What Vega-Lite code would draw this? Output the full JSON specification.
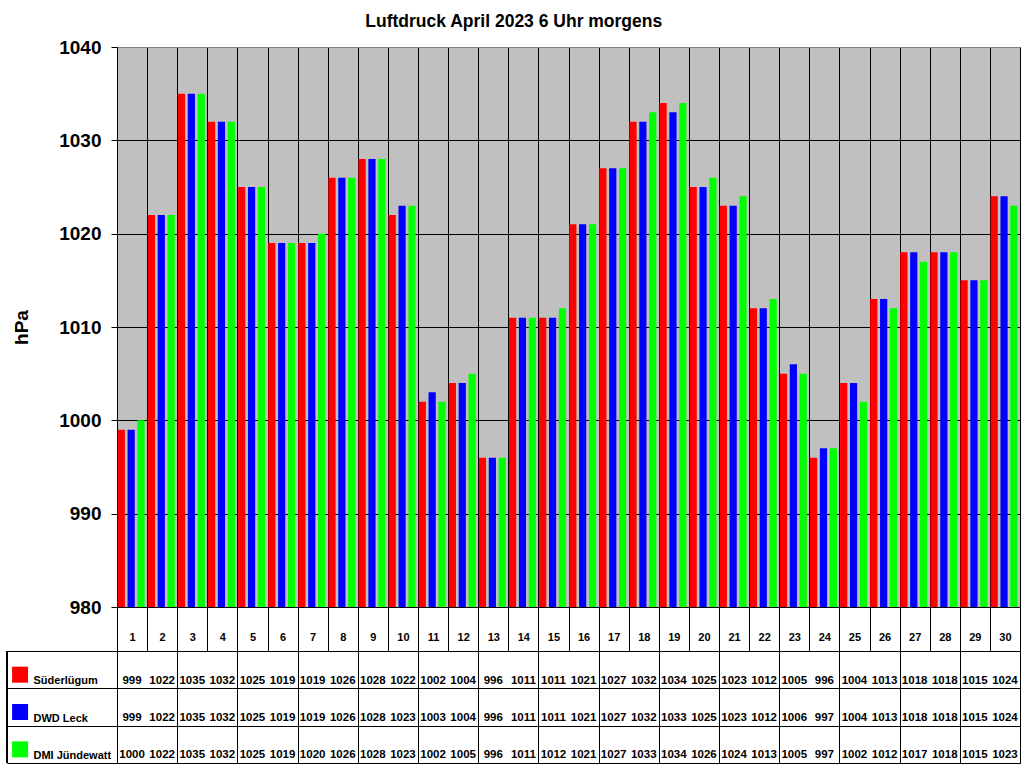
{
  "$schema": "https://vega.github.io/schema/vega-lite/v6.json",
  "background": "white",
  "padding": {"left": 6, "top": 13, "right": 4, "bottom": 4},
  "spacing": 44,
  "bounds": "flush",
  "config": {"font": "Liberation Sans"},
  "title": {"text": "Luftdruck April 2023 6 Uhr morgens", "font": "Liberation Sans", "fontWeight": "bold", "fontSize": 17.5, "color": "black", "anchor": "middle", "offset": 7},
  "data": {"values": [
    {"day": 1, "Süderlügum": 999, "DWD Leck": 999, "DMI Jündewatt": 1000},
    {"day": 2, "Süderlügum": 1022, "DWD Leck": 1022, "DMI Jündewatt": 1022},
    {"day": 3, "Süderlügum": 1035, "DWD Leck": 1035, "DMI Jündewatt": 1035},
    {"day": 4, "Süderlügum": 1032, "DWD Leck": 1032, "DMI Jündewatt": 1032},
    {"day": 5, "Süderlügum": 1025, "DWD Leck": 1025, "DMI Jündewatt": 1025},
    {"day": 6, "Süderlügum": 1019, "DWD Leck": 1019, "DMI Jündewatt": 1019},
    {"day": 7, "Süderlügum": 1019, "DWD Leck": 1019, "DMI Jündewatt": 1020},
    {"day": 8, "Süderlügum": 1026, "DWD Leck": 1026, "DMI Jündewatt": 1026},
    {"day": 9, "Süderlügum": 1028, "DWD Leck": 1028, "DMI Jündewatt": 1028},
    {"day": 10, "Süderlügum": 1022, "DWD Leck": 1023, "DMI Jündewatt": 1023},
    {"day": 11, "Süderlügum": 1002, "DWD Leck": 1003, "DMI Jündewatt": 1002},
    {"day": 12, "Süderlügum": 1004, "DWD Leck": 1004, "DMI Jündewatt": 1005},
    {"day": 13, "Süderlügum": 996, "DWD Leck": 996, "DMI Jündewatt": 996},
    {"day": 14, "Süderlügum": 1011, "DWD Leck": 1011, "DMI Jündewatt": 1011},
    {"day": 15, "Süderlügum": 1011, "DWD Leck": 1011, "DMI Jündewatt": 1012},
    {"day": 16, "Süderlügum": 1021, "DWD Leck": 1021, "DMI Jündewatt": 1021},
    {"day": 17, "Süderlügum": 1027, "DWD Leck": 1027, "DMI Jündewatt": 1027},
    {"day": 18, "Süderlügum": 1032, "DWD Leck": 1032, "DMI Jündewatt": 1033},
    {"day": 19, "Süderlügum": 1034, "DWD Leck": 1033, "DMI Jündewatt": 1034},
    {"day": 20, "Süderlügum": 1025, "DWD Leck": 1025, "DMI Jündewatt": 1026},
    {"day": 21, "Süderlügum": 1023, "DWD Leck": 1023, "DMI Jündewatt": 1024},
    {"day": 22, "Süderlügum": 1012, "DWD Leck": 1012, "DMI Jündewatt": 1013},
    {"day": 23, "Süderlügum": 1005, "DWD Leck": 1006, "DMI Jündewatt": 1005},
    {"day": 24, "Süderlügum": 996, "DWD Leck": 997, "DMI Jündewatt": 997},
    {"day": 25, "Süderlügum": 1004, "DWD Leck": 1004, "DMI Jündewatt": 1002},
    {"day": 26, "Süderlügum": 1013, "DWD Leck": 1013, "DMI Jündewatt": 1012},
    {"day": 27, "Süderlügum": 1018, "DWD Leck": 1018, "DMI Jündewatt": 1017},
    {"day": 28, "Süderlügum": 1018, "DWD Leck": 1018, "DMI Jündewatt": 1018},
    {"day": 29, "Süderlügum": 1015, "DWD Leck": 1015, "DMI Jündewatt": 1015},
    {"day": 30, "Süderlügum": 1024, "DWD Leck": 1024, "DMI Jündewatt": 1023}
  ]},
  "transform": [{"fold": ["Süderlügum", "DWD Leck", "DMI Jündewatt"], "as": ["station", "value"]}],
  "vconcat": [
    {
      "width": 903,
      "height": 560,
      "view": {"fill": "#C0C0C0", "stroke": "#808080"},
      "mark": {"type": "bar"},
      "encoding": {
        "x": {"field": "day", "type": "ordinal", "scale": {"paddingInner": 0, "paddingOuter": 0},
          "axis": {"tickBand": "extent", "grid": true, "gridColor": "black", "gridOpacity": 1, "ticks": true, "tickSize": 44, "tickColor": "black", "domainColor": "black", "labelAngle": 0, "labelFont": "Liberation Sans", "labelFontWeight": "bold", "labelFontSize": 11, "labelColor": "black", "labelBaseline": "middle", "labelPadding": -14, "title": null}},
        "xOffset": {"field": "station", "type": "nominal", "scale": {"domain": ["Süderlügum", "DWD Leck", "DMI Jündewatt"], "paddingInner": 0.27, "paddingOuter": 0.16, "align": 0.22}},
        "y": {"field": "value", "type": "quantitative", "scale": {"domain": [980, 1040], "zero": false, "nice": false},
          "axis": {"values": [980, 990, 1000, 1010, 1020, 1030, 1040], "format": "d", "grid": true, "gridColor": {"condition": {"test": "datum.value == 1040", "value": "#808080"}, "value": "black"}, "gridOpacity": 1, "tickSize": 6, "tickColor": "black", "domainColor": "black", "labelFont": "Liberation Sans", "labelFontWeight": "bold", "labelFontSize": 19, "labelColor": "black", "labelPadding": 10, "title": "hPa", "titleFont": "Liberation Sans", "titleFontWeight": "bold", "titleFontSize": 19, "titleColor": "black", "titlePadding": 27}},
        "y2": {"datum": 980},
        "color": {"field": "station", "type": "nominal", "scale": {"domain": ["Süderlügum", "DWD Leck", "DMI Jündewatt"], "range": ["#FF0000", "#0000FF", "#00FF00"]}, "legend": null}
      }
    },
    {
      "width": 903,
      "height": 112,
      "view": {"stroke": null},
      "layer": [
        {
          "mark": {"type": "text", "font": "Liberation Sans", "fontWeight": "bold", "fontSize": 11.5, "color": "black", "dy": 11},
          "encoding": {
            "x": {"field": "day", "type": "quantitative", "scale": {"domain": [0.5, 30.5], "nice": false, "zero": false},
              "axis": {"values": [0.5, 1.5, 2.5, 3.5, 4.5, 5.5, 6.5, 7.5, 8.5, 9.5, 10.5, 11.5, 12.5, 13.5, 14.5, 15.5, 16.5, 17.5, 18.5, 19.5, 20.5, 21.5, 22.5, 23.5, 24.5, 25.5, 26.5, 27.5, 28.5, 29.5, 30.5], "grid": true, "gridColor": "black", "gridOpacity": 1, "labels": false, "ticks": false, "domain": true, "domainColor": "black", "title": null}},
            "y": {"field": "station", "type": "nominal", "scale": {"domain": ["Süderlügum", "DWD Leck", "DMI Jündewatt"], "paddingInner": 0, "paddingOuter": 0},
              "axis": {"tickBand": "extent", "grid": true, "gridColor": "black", "gridOpacity": 1, "ticks": true, "tickSize": 110, "tickColor": "black", "domain": false, "labelAlign": "left", "labelBaseline": "middle", "labelPadding": -26, "labelOffset": 11, "labelFont": "Liberation Sans", "labelFontWeight": "bold", "labelFontSize": 11, "labelColor": "black", "labelLimit": 0, "title": null}},
            "text": {"field": "value", "type": "quantitative"}
          }
        },
        {
          "mark": {"type": "rule", "color": "black", "clip": false},
          "encoding": {"x": {"datum": -3.154}}
        },
        {
          "transform": [{"filter": "datum.day == 1"}],
          "mark": {"type": "square", "size": 256, "opacity": 1, "yOffset": 5, "clip": false},
          "encoding": {
            "x": {"datum": -2.72},
            "y": {"field": "station", "type": "nominal"},
            "color": {"field": "station", "type": "nominal", "legend": null}
          }
        }
      ]
    }
  ]
}
